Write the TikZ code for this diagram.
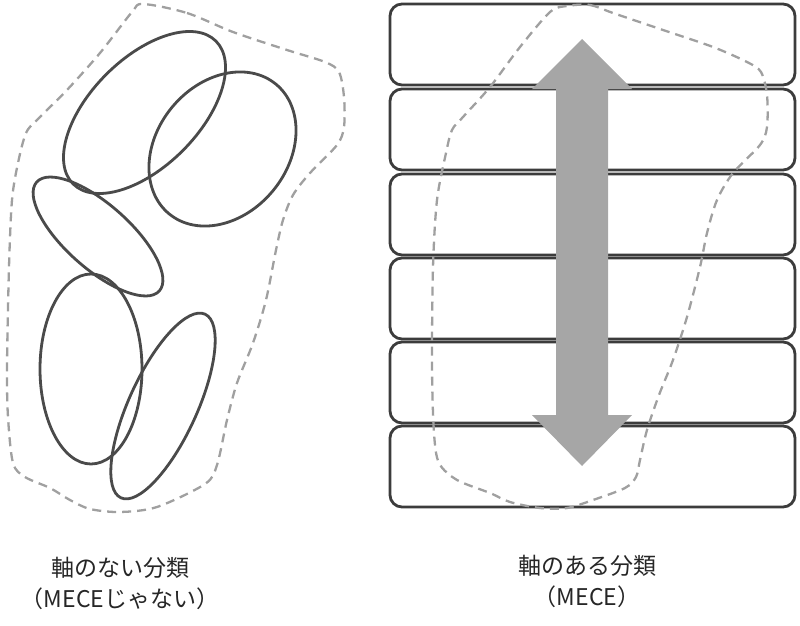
\documentclass[tikz,border=0pt]{standalone}
\usepackage{fontspec}
\setmainfont{Noto Sans CJK JP}
\definecolor{ringgray}{HTML}{4A4A4A}
\definecolor{boxgray}{HTML}{3C3C3C}
\definecolor{hullgray}{HTML}{A0A0A0}
\definecolor{arrowgray}{HTML}{A6A6A6}
\tikzset{
	ring/.style={draw=ringgray, line width=2.8pt},
	row/.style={draw=boxgray, line width=2.8pt, rounded corners=12pt},
	hull/.style={draw=hullgray, line width=2.3pt, dash pattern=on 9pt off 6pt},
	caption/.style={align=center, text=black!85, font=\fontsize{23}{31}\selectfont}
}
\begin{document}
\begin{tikzpicture}[x=1pt,y=-1pt]
				\useasboundingbox (0,0) rectangle (800,626);
				% left: overlapping groups
				\draw[ring, rotate around={45:(144.5,112.5)}] (144.5,112.5) ellipse [x radius=101pt, y radius=54pt];
				\draw[ring, rotate around={50.5:(222.5,149)}] (222.5,149) ellipse [x radius=84pt, y radius=65.5pt];
				\draw[ring, rotate around={-41.6:(98,236.5)}] (98,236.5) ellipse [x radius=82pt, y radius=32pt];
				\draw[ring] (91,369) ellipse [x radius=51pt, y radius=95pt];
				\draw[ring, rotate around={65.4:(163,406)}] (163,406) ellipse [x radius=101pt, y radius=34pt];
				\draw[hull] plot [smooth cycle] coordinates {(143,4) (187,13) (233,32) (287,50) (325,62) (339,72) (344,97) (344,127) (337,145) (310,173) (293,195) (283,220) (276,250) (266,300) (253,343) (237,383) (227,420) (217,465) (205,484) (157,507) (120,512) (90,509) (70,500) (50,488) (25,477) (13,463) (8,417) (7,367) (9,267) (12,200) (18,163) (26,133) (37,120) (67,90) (100,53) (132,12)};
				% right: rows along one axis
				\draw[row] (390,4) rectangle (795,85);
				\draw[row] (390,89) rectangle (795,170);
				\draw[row] (390,174) rectangle (795,255);
				\draw[row] (390,258) rectangle (795,339);
				\draw[row] (390,342) rectangle (795,423);
				\draw[row] (390,426) rectangle (795,507);
				\draw[hull] plot [smooth cycle] coordinates {(567,6) (590,5) (613,13) (663,30) (713,47) (747,62) (761,72) (767,95) (767,127) (760,145) (733,173) (717,200) (707,233) (700,267) (687,317) (673,360) (659,395) (647,430) (640,460) (636,477) (625,488) (593,500) (567,508) (540,508) (510,502) (490,493) (457,480) (439,463) (434,433) (432,367) (433,267) (437,200) (446,153) (452,130) (463,117) (490,87) (520,47) (550,12)};
				\fill[arrowgray] (582,39) -- (632,89) -- (608,89) -- (608,415) -- (632,415) -- (582,466) -- (532,415) -- (556,415) -- (556,89) -- (532,89) -- cycle;
				% captions
				\node[caption] (nonaxis) at (120,583.5) {軸のない分類\\（MECEじゃない）};
				\node[caption] (withaxis) at (587,581) {軸のある分類\\（MECE）};
			\end{tikzpicture}
\end{document}
